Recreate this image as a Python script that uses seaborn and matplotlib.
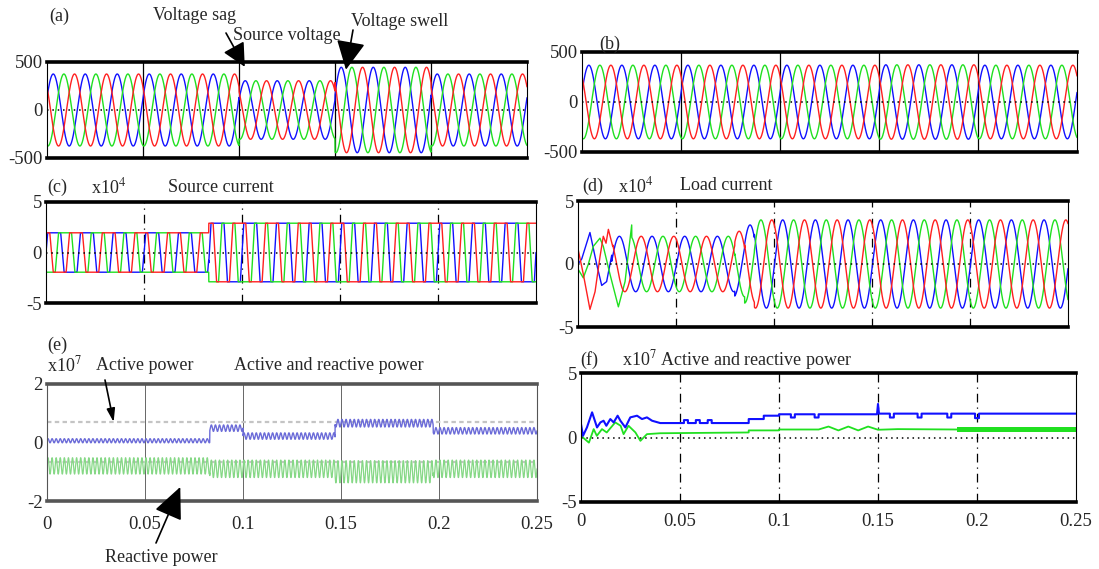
import numpy as np
import matplotlib
matplotlib.use('Agg')
import matplotlib.pyplot as plt
import seaborn as sns

sns.set_style('white')
plt.rcParams['font.family'] = ['Liberation Serif', 'DejaVu Serif']
plt.rcParams['mathtext.fontset'] = 'stix'
plt.rcParams['axes.unicode_minus'] = False

W, H = 1099, 569

# ---------------- values ----------------
freq_hz = 60
phase_names = ['blue', 'green', 'red']
phase_shift_deg = [0, -120, -240]
line_colors = {'blue': '#1010ff', 'green': '#20e020', 'red': '#ff2020'}

x_ticks = [0, 0.05, 0.1, 0.15, 0.2, 0.25]
x_tick_labels = ['0', '0.05', '0.1', '0.15', '0.2', '0.25']

# (a) source voltage, sag 0.1-0.15 s and swell 0.15-0.2 s
va_edges = [0.0, 0.10, 0.15, 0.20]
va_amp = [375, 305, 445, 375]
va_phase_deg = 20

# (b) load voltage (stays constant)
vb_edges = [0.0, 0.10, 0.15, 0.20]
vb_amp = [368, 368, 372, 368]
vb_phase_deg = 15

# (c) source current x10^4, flat topped
ic_edges = [0.0, 0.083]
ic_amp = [1.95, 2.9]
ic_phase_deg = 0
ic_square = 3.2

# (d) load current x10^4
id_edges = [0.0, 0.080, 0.085, 0.090]
id_amp = [2.2, 2.6, 3.1, 3.5]
id_phase_deg = -6
# start-up transient of each phase
id_tr_t = {'blue': [0.0, 0.0019, 0.0061, 0.0095, 0.0121, 0.0146, 0.0172],
           'red': [0.0, 0.0027, 0.0061, 0.0087, 0.0112, 0.0129, 0.0143, 0.0155, 0.0177],
           'green': [0.0, 0.0027, 0.0053, 0.0078, 0.0112, 0.0129, 0.0163, 0.0206, 0.024, 0.0274]}
id_tr_v = {'blue': [0.0, 0.4, 2.5, 0.0, -1.7, -1.4, 0.7],
           'red': [1.2, -0.8, -3.6, -2.2, 0.55, 2.2, 1.65, 2.75, 1.4],
           'green': [-0.4, -1.1, 0.0, 1.4, 2.05, 1.4, -0.8, -3.4, -1.4, 3.1]}

# (e) active / reactive power x10^7
pe_edges = [0.0, 0.083, 0.1, 0.147, 0.197]
p_level = [0.06, 0.49, 0.22, 0.66, 0.40]
p_ripple = [0.07, 0.11, 0.11, 0.13, 0.11]
q_level = [-0.80, -0.90, -0.90, -1.00, -0.90]
q_ripple = [0.28, 0.30, 0.30, 0.38, 0.30]
ripple_hz = 480
e_ref_levels = [0.7, -0.68]

# (f) active / reactive power x10^7
fb_t = [0, 0.001, 0.003, 0.0056, 0.0081, 0.0098, 0.0114, 0.0128, 0.0148, 0.0165,
        0.0185, 0.0199, 0.0224, 0.0249, 0.0283, 0.0308, 0.0333, 0.0359, 0.040,
        0.052, 0.052, 0.054, 0.054, 0.058, 0.058, 0.060, 0.060, 0.064, 0.064,
        0.066, 0.066, 0.0847, 0.0847, 0.0923, 0.0923, 0.100, 0.100, 0.106, 0.106,
        0.108, 0.108, 0.118, 0.118, 0.120, 0.120, 0.1495, 0.150, 0.1505, 0.156,
        0.156, 0.158, 0.158, 0.170, 0.170, 0.172, 0.172, 0.185, 0.185, 0.187,
        0.187, 0.199, 0.199, 0.201, 0.201, 0.25]
fb_v = [1.04, 0.13, 0.78, 1.95, 0.78, 1.17, 1.3, 0.91, 1.43, 1.17,
        1.69, 1.3, 0.78, 1.56, 1.69, 1.43, 1.56, 1.3, 1.12,
        1.12, 1.35, 1.35, 1.12, 1.12, 1.35, 1.35, 1.12, 1.12, 1.35,
        1.35, 1.12, 1.12, 1.43, 1.43, 1.69, 1.69, 1.8, 1.8, 1.55,
        1.55, 1.8, 1.8, 1.55, 1.55, 1.8, 1.8, 2.6, 1.85, 1.85,
        1.55, 1.55, 1.85, 1.85, 1.55, 1.55, 1.85, 1.85, 1.55, 1.55,
        1.85, 1.85, 1.5, 1.5, 1.85, 1.85]
fg_t = [0, 0.004, 0.0064, 0.008, 0.0106, 0.013, 0.0173, 0.020, 0.0215, 0.024,
        0.0275, 0.030, 0.0333, 0.040, 0.0847, 0.0847, 0.100, 0.100, 0.12, 0.125,
        0.13, 0.135, 0.14, 0.145, 0.15, 0.16, 0.19, 0.25]
fg_v = [0.13, -0.4, 0.65, 0.13, 0.65, 0.39, 1.17, 0.91, 0.26, 0.91,
        0.39, -0.26, 0.26, 0.33, 0.39, 0.55, 0.55, 0.62, 0.62, 0.85,
        0.55, 0.85, 0.55, 0.85, 0.6, 0.65, 0.62, 0.62]
fg_band_t = [0.19, 0.25]
fg_band_lo = [0.42, 0.42]
fg_band_hi = [0.82, 0.82]

# ---------------- helpers ----------------
t = np.linspace(0, 0.25, 6001)


def seg(tt, edges, vals):
    idx = np.searchsorted(edges, tt, side='right') - 1
    return np.asarray(vals)[idx]


def three_phase(edges, amp, phase_deg, square=None):
    A = seg(t, edges, amp)
    out = {}
    for name, sh in zip(phase_names, phase_shift_deg):
        w = np.sin(2 * np.pi * freq_hz * t + np.deg2rad(phase_deg + sh))
        if square:
            w = np.clip(square * w, -1, 1)
        out[name] = A * w
    return out


def add_ax(l, r, top, bot):
    return fig.add_axes([l / W, 1 - bot / H, (r - l) / W, (bot - top) / H])


def frame(ax, ylim, yticks, grid, show_x=False, spine_color='black', zero=True):
    ax.set_xlim(0, 0.25)
    ax.set_ylim(ylim)
    ax.set_yticks(yticks)
    ax.set_yticklabels([str(v) for v in yticks])
    ax.set_xticks(x_ticks)
    ax.set_xticklabels(x_tick_labels if show_x else [])
    for xv in x_ticks[1:-1]:
        ax.axvline(xv, zorder=0.5, **grid)
    if zero:
        ax.axhline(0, color='black', ls=(0, (1, 2.5)), lw=1.1, zorder=6)
    for s in ['top', 'bottom']:
        ax.spines[s].set_linewidth(2.6)
        ax.spines[s].set_color(spine_color)
    for s in ['left', 'right']:
        ax.spines[s].set_linewidth(0.8)
        ax.spines[s].set_color(spine_color)
    ax.tick_params(length=0, labelsize=13.5, pad=3)
    ax.set_xlabel('')
    ax.set_ylabel('')


def draw(ax, x, y, color, lw=1.0):
    sns.lineplot(x=x, y=y, ax=ax, color=color, lw=lw, estimator=None,
                 sort=False, legend=False)


solid_grid = dict(color='black', lw=0.9)
dashdot_grid = dict(color='black', lw=0.9, ls=(0, (7, 4, 1, 4)))

fig = plt.figure(figsize=(W / 100, H / 100), dpi=100)

# (a)
ax_a = add_ax(47, 527, 62, 158)
wa = three_phase(va_edges, va_amp, va_phase_deg)
for n in phase_names:
    draw(ax_a, t, wa[n], line_colors[n])
frame(ax_a, (-500, 500), [500, 0, -500], solid_grid)

# (b)
ax_b = add_ax(582, 1077, 52, 152)
wb = three_phase(vb_edges, vb_amp, vb_phase_deg)
for n in phase_names:
    draw(ax_b, t, wb[n], line_colors[n])
frame(ax_b, (-500, 500), [500, 0, -500], solid_grid)

# (c)
ax_c = add_ax(46, 536, 202, 303)
wc = three_phase(ic_edges, ic_amp, ic_phase_deg, square=ic_square)
for n in phase_names:
    draw(ax_c, t, wc[n], line_colors[n])
frame(ax_c, (-5, 5), [5, 0, -5], dashdot_grid)

# (d)
ax_d = add_ax(578, 1068, 201, 327)
wd = three_phase(id_edges, id_amp, id_phase_deg)
for n in phase_names:
    keep = t > id_tr_t[n][-1]
    xx = np.concatenate([id_tr_t[n], t[keep]])
    yy = np.concatenate([id_tr_v[n], wd[n][keep]])
    draw(ax_d, xx, yy, line_colors[n])
frame(ax_d, (-5, 5), [5, 0, -5], dashdot_grid)

# (e)
ax_e = add_ax(47, 537, 384, 501)
for lv in e_ref_levels:
    ax_e.axhline(lv, color='#c4c4c4', lw=1.6, ls=(0, (2, 1.5)), zorder=1)
rip = np.sin(2 * np.pi * ripple_hz * t)
p_e = seg(t, pe_edges, p_level) + seg(t, pe_edges, p_ripple) * rip
q_e = seg(t, pe_edges, q_level) + seg(t, pe_edges, q_ripple) * rip
draw(ax_e, t, q_e, '#86d886', lw=0.9)
draw(ax_e, t, p_e, '#6c6cd8', lw=1.0)
frame(ax_e, (-2, 2), [2, 0, -2], dict(color='#666666', lw=0.7),
      show_x=True, spine_color='#555555', zero=False)
ax_e.tick_params(axis='x', pad=11)

# (f)
ax_f = add_ax(581, 1076, 373, 502)
ax_f.fill_between(fg_band_t, fg_band_lo, fg_band_hi, color='#20e020', lw=0)
draw(ax_f, fg_t, fg_v, '#20e020', lw=1.3)
draw(ax_f, fb_t, fb_v, '#1010ff', lw=1.5)
frame(ax_f, (-5, 5), [5, 0, -5], dashdot_grid, show_x=True)
ax_f.tick_params(axis='x', pad=8)


# ---------------- texts and arrows ----------------
def ftext(x, y, s, **kw):
    fig.text(x / W, 1 - y / H, s, ha='left', va='center', fontsize=13, **kw)


ftext(49, 16, '(a)')
ftext(153, 16, 'Voltage sag')
ftext(233, 35, 'Source voltage')
ftext(351, 21, 'Voltage swell')
ftext(599, 44, '(b)')
ftext(47, 187, '(c)')
ftext(91, 187, 'x10$^{4}$')
ftext(168, 187, 'Source current')
ftext(582, 186, '(d)')
ftext(618, 186, 'x10$^{4}$')
ftext(680, 186, 'Load current')
ftext(47, 345, '(e)')
ftext(47, 365, 'x10$^{7}$')
ftext(96, 365, 'Active power')
ftext(234, 365, 'Active and reactive power')
ftext(105, 558, 'Reactive power')
ftext(580, 360, '(f)')
ftext(622, 360, 'x10$^{7}$ Active and reactive power')


def arrow(ax, xy, xytext, hl, hw, ms):
    ax.annotate('', xy=xy, xycoords='data', xytext=(xytext[0], H - xytext[1]),
                textcoords='figure pixels', annotation_clip=False,
                arrowprops=dict(arrowstyle='-|>,head_length=%s,head_width=%s' % (hl, hw),
                                mutation_scale=ms, color='black', lw=1.2,
                                shrinkA=0, shrinkB=0))


arrow(ax_a, (0.103, 450), (226, 33), 0.9, 0.45, 16)
arrow(ax_a, (0.1557, 420), (353, 30), 1.0, 0.5, 18)
arrow(ax_e, (0.034, 0.7), (105, 380), 0.8, 0.25, 10)
arrow(ax_e, (0.068, -1.52), (156, 543), 1.1, 0.5, 18)

fig.savefig('out.png', dpi=100)
